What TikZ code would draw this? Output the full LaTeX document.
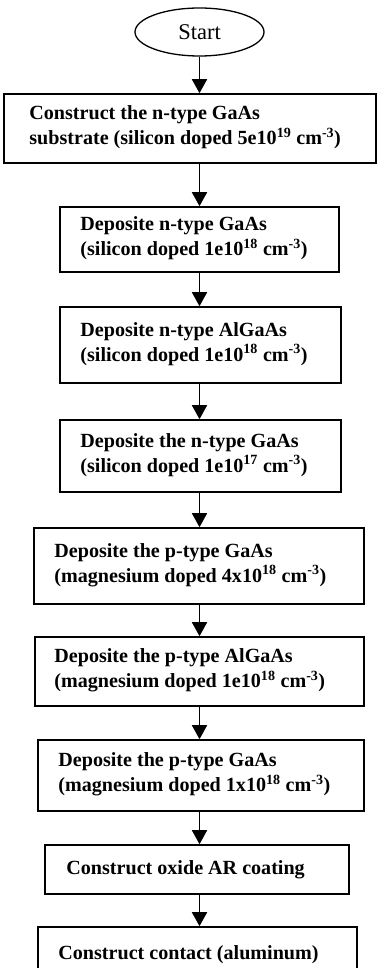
\documentclass[tikz,border=0pt]{standalone}
\usepackage{fontspec}
\setmainfont{Liberation Serif}
\usetikzlibrary{shapes.geometric,arrows.meta}
\tikzset{
  stepbox/.style={draw, line width=1.6pt, rectangle, inner sep=0pt},
  steptext/.style={inner sep=0pt, align=left, anchor=west,
    font=\fontsize{20.1}{25}\selectfont\bfseries},
  flow/.style={line width=1.8pt, -{Triangle[width=15pt,length=14pt]}},
}
\newcommand{\sqbox}[5]{% name, left, right, top, bottom
  \node[stepbox, minimum width=#3pt-#2pt, minimum height=#5pt-#4pt]
    (#1) at ({(#2+#3)/2},{(#4+#5)/2}) {};}
\begin{document}
\begin{tikzpicture}[x=1pt,y=-1pt]
  \clip (0,0) rectangle (377,968);
  \fill[white] (0,0) rectangle (377,968);

  % start terminal
  \node[draw, ellipse, line width=1.3pt, minimum width=129pt, minimum height=48pt,
        inner sep=0pt, font=\fontsize{22.5}{26}\selectfont] (start) at (199.5,32) {Start};

  % process steps
  \sqbox{b1}{4}{376}{94}{163}
  \sqbox{b2}{60}{339}{207}{272}
  \sqbox{b3}{60}{341}{307}{383}
  \sqbox{b4}{60}{341}{420}{492}
  \sqbox{b5}{34}{364}{528}{604}
  \sqbox{b6}{35}{364}{637}{706}
  \sqbox{b7}{38}{364}{740}{811}
  \sqbox{b8}{45}{349}{845}{894}
  \sqbox{b9}{38}{357}{927}{975}

  \node[steptext] (t1) at ([xshift=26pt,yshift=1pt]b1.west)
    {Construct the n-type GaAs\\substrate (silicon doped 5e10\textsuperscript{19} cm\textsuperscript{-3})};
  \node[steptext] (t2) at ([xshift=21pt,yshift=1pt]b2.west)
    {Deposite n-type GaAs\\(silicon doped 1e10\textsuperscript{18} cm\textsuperscript{-3})};
  \node[steptext] (t3) at ([xshift=21pt,yshift=1pt]b3.west)
    {Deposite n-type AlGaAs\\(silicon doped 1e10\textsuperscript{18} cm\textsuperscript{-3})};
  \node[steptext] (t4) at ([xshift=21pt,yshift=1pt]b4.west)
    {Deposite the n-type GaAs\\(silicon doped 1e10\textsuperscript{17} cm\textsuperscript{-3})};
  \node[steptext] (t5) at ([xshift=21pt,yshift=1pt]b5.west)
    {Deposite the p-type GaAs\\(magnesium doped 4x10\textsuperscript{18} cm\textsuperscript{-3})};
  \node[steptext] (t6) at ([xshift=20pt,yshift=1pt]b6.west)
    {Deposite the p-type AlGaAs\\(magnesium doped 1e10\textsuperscript{18} cm\textsuperscript{-3})};
  \node[steptext] (t7) at ([xshift=21pt,yshift=1pt]b7.west)
    {Deposite the p-type GaAs\\(magnesium doped 1x10\textsuperscript{18} cm\textsuperscript{-3})};
  \node[steptext] (t8) at ([xshift=22pt]b8.west) {Construct oxide AR coating};
  \node[steptext] (t9) at ([xshift=21pt,yshift=-4pt]b9.west) {Construct contact (aluminum)};

  % connectors
  \draw[flow] (start.south) -- (start.south |- b1.north);
  \draw[flow] (b1.south -| start.south) -- (start.south |- b2.north);
  \draw[flow] (b2.south -| start.south) -- (start.south |- b3.north);
  \draw[flow] (b3.south -| start.south) -- (start.south |- b4.north);
  \draw[flow] (b4.south -| start.south) -- (start.south |- b5.north);
  \draw[flow] (b5.south -| start.south) -- (start.south |- b6.north);
  \draw[flow] (b6.south -| start.south) -- (start.south |- b7.north);
  \draw[flow] (b7.south -| start.south) -- (start.south |- b8.north);
  \draw[flow] (b8.south -| start.south) -- (start.south |- b9.north);
\end{tikzpicture}
\end{document}
